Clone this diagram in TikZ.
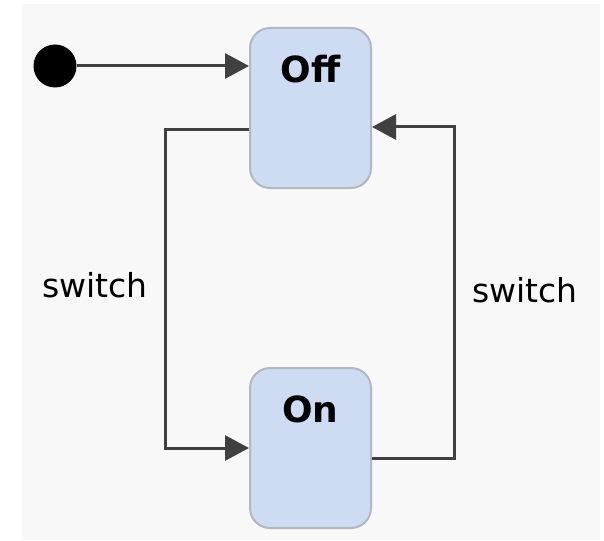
\documentclass[tikz,border=0pt]{standalone}
\usepackage{fontspec}
\setmainfont{DejaVu Sans}
\usetikzlibrary{arrows.meta}

\definecolor{canvas}{RGB}{248,248,248}
\definecolor{statefill}{RGB}{205,220,242}
\definecolor{stateedge}{RGB}{178,184,194}
\definecolor{wire}{RGB}{64,64,64}

\tikzset{
  state/.style={draw=stateedge, fill=statefill, line width=2pt,
    rounded corners=20pt, minimum width=121pt, minimum height=160pt,
    inner sep=0pt},
  statename/.style={font=\fontsize{36}{42}\selectfont\bfseries, anchor=base},
  trans/.style={draw=wire, line width=3pt,
    -{Triangle[length=24pt, width=25pt, fill=wire]}},
  event/.style={font=\fontsize{33}{40}\selectfont, anchor=base, inner sep=0pt},
  initial/.style={circle, fill=black, minimum size=43pt, inner sep=0pt}
}

\begin{document}
\begin{tikzpicture}[x=1pt, y=-1pt]
  % page and canvas
  \useasboundingbox (0,0) rectangle (604,540);
  \fill[white] (0,0) rectangle (604,540);
  \fill[canvas] (22,4) rectangle (600,540);

  % states
  \node[state, label={[statename, yshift=-56pt]north:Off}] (off) at (310.5,108) {};
  \node[state, label={[statename, yshift=-55pt]north:On}] (on) at (310.5,448) {};

  % initial pseudo-state
  \node[initial] (init) at (55,66) {};

  % transitions
  \draw[trans] (init) -- (init -| off.west);
  \draw[trans] ([yshift=-22pt]off.west) -- ++(-84pt,0) |- (on.west);
  \draw[trans] ([yshift=-10pt]on.east) -- ++(82pt,0) |- ([yshift=-19pt]off.east);

  % event labels
  \node[event] (evoff) at (95,297) {switch};
  \node[event] (evon) at (525,302) {switch};
\end{tikzpicture}
\end{document}
